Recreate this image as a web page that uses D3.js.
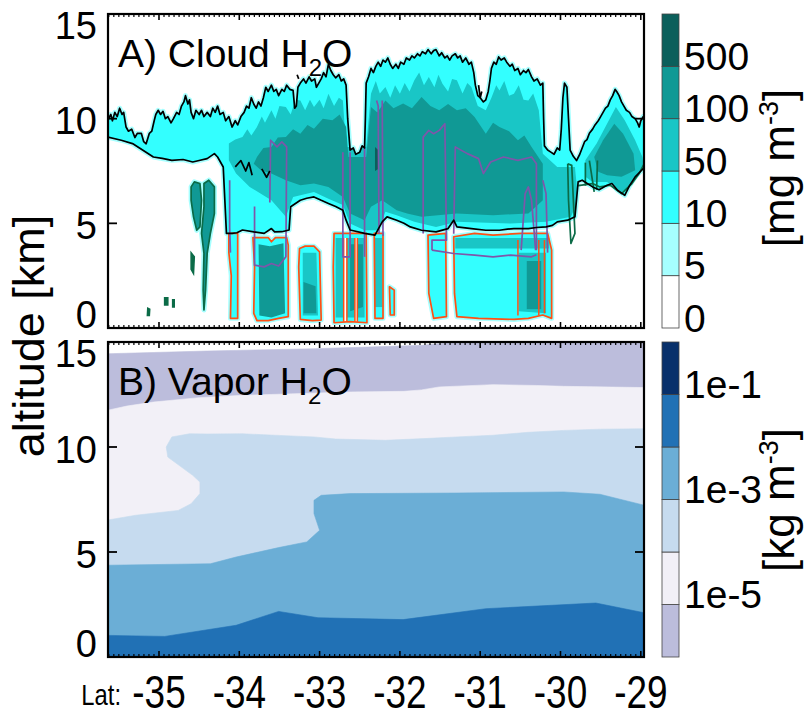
<!DOCTYPE html>
<html><head><meta charset="utf-8">
<script src="https://cdn.jsdelivr.net/npm/d3@7"></script>
<style>body{margin:0;background:#fff}text{font-family:'Liberation Sans',Arial,sans-serif;fill:#000}</style>
</head><body><svg id="c" width="804" height="718"></svg>
<script>
// ---------------- DATA ----------------
const latTicks = [-35,-34,-33,-32,-31,-30,-29];
const altTicks = [0,5,10,15];
const cloudLevels = [5,10,50,100,500];
const cloudColors = ['#ffffff','#a6ffff','#33ffff','#19c6c6','#109995','#0b5f5b'];
const cloudTickLabels = ['0','5','10','50','100','500'];
const vaporLevels = [1e-5,1e-4,1e-3,1e-2,1e-1];
const vaporColors = ['#bcbddc','#f2f0f7','#c6dbef','#6baed6','#2171b5','#08306b'];
const vaporTickLabels = [[1,'1e-5'],[3,'1e-3'],[5,'1e-1']];

// Panel A: cloud layer top (black contour), left -> right  [lat, alt km]
const cloudTop = [[-35.64,9.92],[-35.60,10.2],[-35.58,9.9],[-35.55,10.3],[-35.52,10.1],[-35.49,10.5],[-35.46,10.2],[-35.44,10.3],[-35.41,9.6],[-35.38,9.4],[-35.34,9.5],[-35.30,9.1],[-35.27,9.3],[-35.22,9.3],[-35.19,8.9],[-35.16,8.8],[-35.12,9.3],[-35.09,9.4],[-35.06,9.9],[-35.04,10.2],[-35.01,10.4],[-34.98,10.2],[-34.95,10.35],[-34.92,10.0],[-34.89,10.1],[-34.85,9.8],[-34.82,10.0],[-34.78,10.3],[-34.75,10.2],[-34.72,10.6],[-34.69,10.8],[-34.67,11.1],[-34.64,10.7],[-34.62,10.9],[-34.60,10.3],[-34.57,10.0],[-34.54,10.4],[-34.50,10.2],[-34.47,10.4],[-34.44,10.1],[-34.40,10.3],[-34.36,10.1],[-34.33,10.5],[-34.30,10.3],[-34.27,10.6],[-34.24,10.2],[-34.20,10.3],[-34.17,9.9],[-34.13,10.1],[-34.09,9.6],[-34.05,9.9],[-34.02,9.7],[-33.98,10.1],[-33.94,10.3],[-33.91,10.6],[-33.88,10.5],[-33.85,11.0],[-33.82,10.7],[-33.79,10.5],[-33.76,10.8],[-33.73,10.6],[-33.70,11.0],[-33.67,11.5],[-33.64,11.3],[-33.60,11.6],[-33.57,11.3],[-33.54,11.4],[-33.51,11.1],[-33.47,11.4],[-33.44,11.3],[-33.41,11.6],[-33.37,11.4],[-33.33,11.35],[-33.31,10.5],[-33.29,10.6],[-33.27,11.5],[-33.24,11.7],[-33.20,11.9],[-33.17,11.7],[-33.13,12.0],[-33.10,11.8],[-33.06,11.9],[-33.04,11.5],[-33.01,11.7],[-32.98,11.9],[-32.95,12.2],[-32.92,12.0],[-32.89,12.6],[-32.86,12.3],[-32.83,12.1],[-32.80,11.95],[-32.76,12.1],[-32.73,11.8],[-32.70,11.9],[-32.67,11.6],[-32.65,10.0],[-32.62,8.5],[-32.58,8.6],[-32.55,8.3],[-32.50,8.4],[-32.47,8.7],[-32.44,8.6],[-32.43,10.0],[-32.42,11.7],[-32.39,12.0],[-32.36,12.4],[-32.33,12.2],[-32.30,12.5],[-32.27,12.7],[-32.24,12.5],[-32.21,12.8],[-32.18,12.7],[-32.15,12.9],[-32.12,12.6],[-32.09,12.4],[-32.05,12.6],[-32.02,12.4],[-31.99,12.7],[-31.95,12.6],[-31.92,12.9],[-31.88,12.8],[-31.85,13.0],[-31.82,12.9],[-31.78,13.1],[-31.75,13.0],[-31.72,13.2],[-31.68,13.1],[-31.65,13.3],[-31.61,13.1],[-31.58,13.25],[-31.55,13.3],[-31.51,13.0],[-31.48,13.15],[-31.44,12.9],[-31.41,13.0],[-31.38,12.8],[-31.35,13.0],[-31.31,13.1],[-31.28,12.9],[-31.25,13.0],[-31.22,12.7],[-31.18,12.9],[-31.14,12.6],[-31.11,12.7],[-31.08,12.2],[-31.06,11.6],[-31.03,11.1],[-31.00,11.0],[-30.96,10.8],[-30.93,10.9],[-30.90,11.3],[-30.88,11.8],[-30.86,12.4],[-30.83,12.7],[-30.80,12.6],[-30.77,12.95],[-30.74,12.8],[-30.70,12.9],[-30.67,12.7],[-30.63,12.5],[-30.60,12.6],[-30.57,12.3],[-30.53,12.4],[-30.50,12.1],[-30.46,12.3],[-30.43,12.2],[-30.40,12.35],[-30.36,12.0],[-30.33,11.8],[-30.29,11.9],[-30.25,11.6],[-30.22,11.7],[-30.21,10.0],[-30.20,8.7],[-30.16,8.5],[-30.12,8.4],[-30.08,8.3],[-30.04,8.6],[-30.01,8.5],[-29.99,9.5],[-29.97,11.0],[-29.95,11.7],[-29.92,11.5],[-29.90,10.0],[-29.88,8.5],[-29.84,8.2],[-29.80,8.0],[-29.76,8.3],[-29.73,8.6],[-29.70,8.9],[-29.67,9.0],[-29.64,9.3],[-29.60,9.5],[-29.57,9.7],[-29.53,9.9],[-29.50,10.1],[-29.47,10.3],[-29.44,10.5],[-29.41,10.6],[-29.38,10.9],[-29.35,11.1],[-29.32,11.4],[-29.30,11.3],[-29.27,11.1],[-29.24,10.8],[-29.21,10.6],[-29.18,10.4],[-29.14,10.3],[-29.11,10.1],[-29.07,10.0],[-29.04,9.8],[-29.02,9.6],[-29.00,9.9],[-28.97,10.1],[-28.95,9.9]];
// cloud layer base (black contour), right -> left
const cloudBase = [[-28.95,7.69],[-29.07,7.22],[-29.14,6.8],[-29.20,6.34],[-29.29,6.58],[-29.36,6.9],[-29.42,6.82],[-29.52,6.6],[-29.60,6.74],[-29.73,7.06],[-29.78,6.98],[-29.82,5.31],[-29.91,5.15],[-30.04,5.07],[-30.10,4.9],[-30.18,4.83],[-30.30,4.8],[-30.40,4.75],[-30.58,4.75],[-30.66,4.72],[-30.76,4.67],[-30.93,4.67],[-31.11,4.75],[-31.29,4.83],[-31.33,5.15],[-31.40,4.75],[-31.55,4.59],[-31.73,4.67],[-31.87,4.83],[-31.95,5.0],[-32.04,5.15],[-32.16,5.31],[-32.22,5.07],[-32.31,4.44],[-32.44,4.52],[-32.62,4.68],[-32.67,5.15],[-32.71,5.63],[-32.80,5.8],[-32.89,5.95],[-32.98,6.1],[-33.07,6.26],[-33.16,6.2],[-33.24,6.10],[-33.36,5.79],[-33.38,4.68],[-33.47,4.6],[-33.56,4.59],[-33.60,4.75],[-33.69,4.52],[-33.82,4.59],[-33.96,4.68],[-34.03,4.55],[-34.09,4.52],[-34.16,4.52],[-34.18,6.10],[-34.20,7.69],[-34.27,8.17],[-34.31,8.33],[-34.40,8.09],[-34.50,8.0],[-34.58,7.93],[-34.70,8.05],[-34.84,8.01],[-34.96,8.1],[-35.07,8.17],[-35.20,8.49],[-35.33,8.81],[-35.47,8.97],[-35.64,9.12]];
const midBand = [[-34.13,8.81],[-34.05,9.0],[-33.96,9.12],[-33.9,9.5],[-33.85,9.2],[-33.78,9.6],[-33.72,10.1],[-33.68,9.8],[-33.60,10.4],[-33.55,10.0],[-33.5,10.6],[-33.42,10.56],[-33.36,10.2],[-33.3,10.9],[-33.24,10.87],[-33.18,10.4],[-33.12,10.9],[-33.07,10.56],[-33.0,10.9],[-32.95,10.5],[-32.89,11.19],[-32.82,10.6],[-32.76,11.0],[-32.71,10.87],[-32.67,8.65],[-32.42,8.65],[-32.36,11.19],[-32.3,11.8],[-32.25,11.2],[-32.18,11.51],[-32.12,11.0],[-32.06,11.6],[-32.0,11.19],[-31.94,11.7],[-31.88,11.3],[-31.82,11.83],[-31.76,12.2],[-31.7,11.6],[-31.64,11.99],[-31.57,11.5],[-31.52,12.1],[-31.47,11.67],[-31.4,11.3],[-31.35,11.9],[-31.29,11.83],[-31.22,11.2],[-31.16,11.7],[-31.11,11.51],[-31.03,10.6],[-30.93,10.40],[-30.86,11.0],[-30.8,11.6],[-30.76,11.35],[-30.7,11.8],[-30.64,11.1],[-30.58,11.19],[-30.52,11.6],[-30.46,10.9],[-30.40,10.87],[-30.34,11.2],[-30.27,10.40],[-30.22,8.33],[-30.04,7.69],[-29.82,7.69],[-29.78,6.10],[-29.87,5.31],[-30.18,5.07],[-30.62,4.99],[-31.29,5.07],[-31.55,4.83],[-31.82,5.07],[-32.04,5.39],[-32.18,5.55],[-32.27,4.67],[-32.44,4.67],[-32.62,4.99],[-32.71,5.87],[-32.89,6.18],[-33.07,6.50],[-33.33,6.26],[-33.42,5.31],[-33.60,6.10],[-33.87,6.74],[-34.04,7.38],[-34.13,8.01]];
const tealCore = [[-33.78,8.17],[-33.70,8.6],[-33.60,8.65],[-33.52,9.1],[-33.42,9.12],[-33.33,9.5],[-33.24,9.28],[-33.15,9.7],[-33.07,9.52],[-32.96,10.0],[-32.84,9.92],[-32.75,10.2],[-32.67,9.60],[-32.64,8.17],[-32.42,8.17],[-32.36,10.56],[-32.28,10.3],[-32.18,10.87],[-32.08,10.5],[-31.96,10.72],[-31.85,10.5],[-31.73,11.03],[-31.62,10.6],[-31.51,10.40],[-31.40,10.7],[-31.29,10.40],[-31.18,10.5],[-31.07,10.08],[-30.93,9.28],[-30.84,9.8],[-30.76,9.60],[-30.64,9.4],[-30.53,8.97],[-30.45,9.2],[-30.36,8.65],[-30.22,7.85],[-30.22,6.10],[-30.40,5.47],[-30.84,5.39],[-31.29,5.47],[-31.73,5.31],[-31.91,5.47],[-32.04,5.63],[-32.22,6.10],[-32.36,5.79],[-32.44,5.15],[-32.62,5.47],[-32.71,6.26],[-32.89,6.74],[-33.07,6.90],[-33.24,6.82],[-33.42,7.06],[-33.60,7.38],[-33.73,7.54],[-33.82,7.85]];
const rightMid = [[-29.69,8.01],[-29.55,8.81],[-29.42,9.76],[-29.31,10.56],[-29.20,9.92],[-29.07,8.97],[-28.98,8.17],[-28.95,7.38],[-29.07,6.90],[-29.24,6.50],[-29.42,6.98],[-29.60,6.98],[-29.69,7.22]];
const rightCore = [[-29.58,8.17],[-29.47,8.97],[-29.33,9.76],[-29.22,9.28],[-29.09,8.33],[-29.07,7.54],[-29.24,7.22],[-29.42,7.30],[-29.53,7.46]];
const darkSpot = [[-32.31,8.65],[-32.27,8.50],[-32.27,7.60],[-32.31,7.50]];
// precipitating columns below the layer
const columns = [
  [[-34.13,4.52],[-34.02,4.52],[-34.02,0.46],[-34.11,0.46],[-34.10,2.5],[-34.13,3.6]],
  [[-33.83,4.32],[-33.64,4.32],[-33.60,4.12],[-33.55,4.32],[-33.41,4.32],[-33.39,3.96],[-33.39,0.54],[-33.51,0.46],[-33.64,0.35],[-33.78,0.35],[-33.82,0.70],[-33.81,2.92]],
  [[-33.25,3.80],[-33.18,3.91],[-33.07,3.91],[-33.00,3.64],[-32.98,0.38],[-33.09,0.35],[-33.24,0.41],[-33.26,2.92]],
  [[-32.82,4.52],[-32.42,4.52],[-32.41,0.25],[-32.62,0.30],[-32.82,0.25],[-32.83,2.92]],
  [[-32.32,4.52],[-32.21,4.52],[-32.21,0.46],[-32.31,0.46]],
  [[-32.13,1.97],[-32.07,1.81],[-32.07,0.62],[-32.12,0.62]],
  [[-31.65,4.44],[-31.43,4.52],[-31.42,0.54],[-31.58,0.46],[-31.64,1.65]],
  [[-31.33,4.36],[-31.07,4.52],[-30.84,4.44],[-30.49,4.52],[-30.16,4.52],[-30.11,3.72],[-30.11,0.46],[-30.22,0.62],[-30.40,0.46],[-30.58,0.41],[-31.02,0.46],[-31.29,0.54],[-31.32,1.65]]
];
const columnCores = [
  [200,[[-33.76,4.0],[-33.62,3.9],[-33.45,4.05],[-33.43,0.7],[-33.60,0.5],[-33.75,0.6]]],
  [70,[[-33.21,3.6],[-33.04,3.6],[-33.02,0.6],[-33.21,0.6]]],
  [200,[[-33.20,2.2],[-33.05,2.0],[-33.04,0.7],[-33.20,0.7]]],
  [70,[[-32.80,4.3],[-32.44,4.3],[-32.44,0.5],[-32.80,0.5]]],
  [200,[[-32.62,4.0],[-32.46,4.0],[-32.46,1.0],[-32.62,0.8]]],
  [70,[[-32.31,4.3],[-32.22,4.3],[-32.22,1.0],[-32.31,1.0]]],
  [70,[[-31.31,4.3],[-30.14,4.3],[-30.14,3.8],[-31.31,3.8]]],
  [70,[[-30.52,3.6],[-30.18,3.6],[-30.18,0.7],[-30.52,0.8]]],
  [200,[[-30.42,3.2],[-30.24,3.2],[-30.24,0.9],[-30.42,0.9]]],
  [0,[[-32.70,4.3],[-32.66,4.3],[-32.66,0.3],[-32.70,0.3]]],
  [0,[[-32.56,4.3],[-32.53,4.3],[-32.53,0.3],[-32.56,0.3]]]
];
const orangeExtra = [
  [[-32.70,4.3],[-32.70,0.3]],[[-32.66,4.3],[-32.66,0.3]],[[-32.56,4.3],[-32.56,0.3]],[[-32.53,4.3],[-32.53,0.3]],
  [[-30.53,4.2],[-30.53,0.6]],[[-30.27,4.2],[-30.27,0.6]],[[-30.20,4.2],[-30.20,0.7]]
];
const purpleLines = [
  [[-34.12,7.06],[-34.12,4.8],[-34.11,3.6]],
  [[-33.81,5.8],[-33.81,3.0],[-33.69,2.92],[-33.60,3.08],[-33.51,2.96],[-33.42,3.40],[-33.41,8.65],[-33.47,8.89],[-33.53,8.65],[-33.61,8.97],[-33.62,6.0]],
  [[-32.71,8.4],[-32.71,3.4],[-32.62,3.4],[-32.62,8.4]],
  [[-32.44,8.6],[-32.44,3.4]],
  [[-32.29,10.87],[-32.27,10.6],[-32.26,4.5]],
  [[-32.22,10.87],[-32.21,4.4]],
  [[-31.71,4.52],[-31.71,9.12],[-31.64,9.44],[-31.58,9.28],[-31.51,9.44],[-31.44,9.76],[-31.42,4.2],[-31.60,4.2],[-31.60,3.72]],
  [[-31.33,4.5],[-31.31,8.65],[-31.16,8.33],[-31.02,8.09],[-30.96,7.38],[-30.87,7.93],[-30.71,8.17],[-30.53,8.01],[-30.36,8.17],[-30.30,7.85],[-30.30,3.72]],
  [[-31.60,3.72],[-31.33,3.56],[-31.07,3.48],[-30.84,3.40],[-30.62,3.48],[-30.36,3.40],[-30.30,3.5]],
  [[-30.49,3.72],[-30.44,6.42],[-30.40,6.74],[-30.36,6.10],[-30.31,3.72]],
  [[-30.22,7.06],[-30.18,6.42],[-30.16,3.6]]
];
const greenLoops = [
  [[-34.60,6.74],[-34.56,6.98],[-34.49,6.90],[-34.47,6.10],[-34.49,4.83],[-34.53,4.67],[-34.57,5.31],[-34.60,6.10]],
  [[-34.44,6.90],[-34.38,7.06],[-34.31,6.74],[-34.31,5.47],[-34.36,4.52],[-34.40,3.56],[-34.42,1.81],[-34.44,0.86],[-34.45,1.81],[-34.44,3.56],[-34.47,4.52],[-34.44,5.79]]
];
const greenBlobs = [
  [[-35.145,0.6],[-35.12,0.6],[-35.115,0.9],[-35.14,0.95]],
  [[-34.93,1.1],[-34.89,1.1],[-34.89,1.45],[-34.93,1.45]],
  [[-34.83,1.0],[-34.81,1.0],[-34.81,1.35],[-34.83,1.35]],
  [[-34.60,3.6],[-34.56,3.4],[-34.57,2.6],[-34.60,2.8]]
];
const greenLines = [
  [[-29.91,7.85],[-29.86,7.77],[-29.82,4.52],[-29.87,4.04],[-29.90,6.10],[-29.91,7.85]],
  [[-29.78,6.8],[-29.60,6.9],[-29.51,6.74],[-29.38,6.82],[-29.24,6.42],[-29.11,6.9],[-29.02,7.38],[-28.95,7.9]],
  [[-29.69,7.9],[-29.69,6.8]],[[-29.64,8.0],[-29.58,6.5]],[[-29.54,8.0],[-29.55,6.6]]
];
const blackBits = [
  [[-34.05,7.7],[-33.98,8.0],[-33.92,7.5],[-33.88,7.9],[-33.84,7.3]],
  [[-33.72,7.6],[-33.66,7.2],[-33.62,7.5]],
  [[-31.02,11.6],[-31.00,11.0],[-30.98,11.3]],
  [[-33.28,12.1],[-33.26,11.9]]
];

// Panel B: vapour contour boundaries [lat, alt km]
const vaporTop = [[-35.64,14.44],[-34.4,14.57],[-33.07,14.68],[-31.73,14.84],[-31.29,15.0],[-28.95,15.0]];
const vapor1e5 = [[-35.64,11.75],[-35.4,11.95],[-35.07,12.14],[-34.5,12.35],[-33.96,12.46],[-33.2,12.55],[-32.62,12.62],[-31.95,12.65],[-31.73,12.72],[-31.51,12.86],[-30.84,12.97],[-30.3,12.93],[-29.96,12.89],[-28.95,12.83]];
const vapor1e4 = [[-28.95,10.87],[-29.5,10.85],[-29.96,10.79],[-30.4,10.7],[-30.84,10.56],[-31.29,10.48],[-31.7,10.4],[-32.18,10.32],[-32.8,10.38],[-33.07,10.48],[-33.5,10.55],[-33.96,10.63],[-34.4,10.62],[-34.62,10.63],[-34.84,10.48],[-34.91,10.0],[-34.89,9.52],[-34.58,8.65],[-34.49,8.33],[-34.49,7.78],[-34.6,7.3],[-34.76,6.98],[-35.29,6.75],[-35.64,6.52]];
const vapor1e3 = [[-35.64,4.37],[-34.36,4.44],[-34.04,4.76],[-33.51,5.21],[-33.16,5.48],[-33.0,6.03],[-33.07,6.83],[-33.07,7.46],[-32.98,7.70],[-32.62,7.78],[-31.29,7.81],[-29.96,7.86],[-29.51,7.75],[-28.95,7.22]];
const vapor1e2 = [[-35.64,1.03],[-34.93,0.98],[-34.04,1.51],[-33.51,2.17],[-33.02,1.87],[-31.96,1.78],[-30.93,2.30],[-29.56,2.57],[-28.95,2.10]];

// ---------------- DRAW ----------------
const svg = d3.select('#c');
const X0=108, X1=644, AT=14, AB=328, BT=342, BB=657;
const xS = d3.scaleLinear().domain([-35.635,-28.96]).range([X0,X1]);
const yA = d3.scaleLinear().domain([0,15]).range([AB,AT]);
const yB = d3.scaleLinear().domain([0,15]).range([BB,BT]);
const colA = d3.scaleThreshold().domain(cloudLevels).range(cloudColors);
const colB = d3.scaleThreshold().domain(vaporLevels).range(vaporColors);
const lineA = d3.line().x(d=>xS(d[0])).y(d=>yA(d[1]));
const lineB = d3.line().x(d=>xS(d[0])).y(d=>yB(d[1]));
const closeDown = pts => pts.concat([[pts[pts.length-1][0],0],[pts[0][0],0]]);

const defs = svg.append('defs');
defs.append('clipPath').attr('id','clipA').append('rect').attr('x',X0).attr('y',AT).attr('width',X1-X0).attr('height',AB-AT);
defs.append('clipPath').attr('id','clipB').append('rect').attr('x',X0).attr('y',BT).attr('width',X1-X0).attr('height',BB-BT);
const upperLayer = cloudTop.concat(cloudBase);
defs.append('clipPath').attr('id','clipUpper').append('path').attr('d',lineA(upperLayer)+'Z');

// ---- Panel A
const gA = svg.append('g').attr('clip-path','url(#clipA)');
gA.append('rect').attr('x',X0).attr('y',AT).attr('width',X1-X0).attr('height',AB-AT).attr('fill','#fff');
const outer = [{p:upperLayer,v:20}].concat(columns.map(p=>({p,v:20}))).concat(greenLoops.map(p=>({p,v:200})));
gA.selectAll('path.halo').data(outer).join('path').attr('class','halo')
  .attr('d',d=>lineA(d.p)+'Z').attr('fill',colA(7)).attr('stroke',colA(7)).attr('stroke-width',5).attr('stroke-linejoin','round');
gA.selectAll('path.fillA').data(outer).join('path').attr('class','fillA')
  .attr('d',d=>lineA(d.p)+'Z').attr('fill',d=>colA(d.v));
const inner = [{p:midBand,v:70},{p:rightMid,v:70},{p:tealCore,v:200},{p:rightCore,v:200},{p:darkSpot,v:700}];
gA.append('g').attr('clip-path','url(#clipUpper)').selectAll('path').data(inner).join('path')
  .attr('d',d=>lineA(d.p)+'Z').attr('fill',d=>colA(d.v));
gA.append('g').selectAll('path').data(columnCores).join('path')
  .attr('d',d=>lineA(d[1])+'Z').attr('fill',d=>colA(d[0]));
gA.selectAll('path.gb').data(greenBlobs).join('path').attr('class','gb')
  .attr('d',d=>lineA(d)+'Z').attr('fill','#0b6b47').attr('stroke','#0b6b47').attr('stroke-width',1.5);
const strokeLines = (data, color, closed, w) => gA.append('g').selectAll('path').data(data).join('path')
  .attr('d',d=>lineA(d)+(closed?'Z':'')).attr('fill','none').attr('stroke',color).attr('stroke-width',w).attr('stroke-linejoin','round');
strokeLines(columns,'#ff5014',true,1.7);
strokeLines(orangeExtra,'#ff5014',false,1.5);
strokeLines(purpleLines,'#7e56aa',false,1.7);
strokeLines(greenLoops,'#0b6b47',true,1.7);
strokeLines(greenLines,'#0b6b47',false,1.7);
strokeLines([cloudTop,cloudBase].concat(blackBits),'#000',false,1.7);

// ---- Panel B
const gB = svg.append('g').attr('clip-path','url(#clipB)');
gB.append('rect').attr('x',X0).attr('y',BT).attr('width',X1-X0).attr('height',BB-BT).attr('fill','#fff');
const vaporBands = [[vaporTop,5e-6],[vapor1e5,5e-5],[vapor1e4,5e-4],[vapor1e3,5e-3],[vapor1e2,5e-2]];
gB.selectAll('path').data(vaporBands).join('path')
  .attr('d',d=>lineB(closeDown(d[0]))+'Z').attr('fill',d=>colB(d[1])).attr('stroke',d=>colB(d[1])).attr('stroke-width',0.6);

// ---- Frames, ticks, labels
const minor = d3.range(-35.625,-28.96,0.0625).filter(v=>Math.abs(v-Math.round(v))>0.01);
[[yA,AT,AB],[yB,BT,BB]].forEach(([ys,top,bot])=>{
  const g = svg.append('g').attr('stroke','#000').attr('fill','none');
  g.selectAll('line.mn').data(minor).join('line').attr('class','mn')
    .attr('x1',d=>xS(d)).attr('x2',d=>xS(d)).attr('y1',bot).attr('y2',bot-3).attr('stroke-width',1.2);
  g.selectAll('line.mt').data(minor).join('line').attr('class','mt')
    .attr('x1',d=>xS(d)).attr('x2',d=>xS(d)).attr('y1',top).attr('y2',top+3).attr('stroke-width',1.2);
  g.selectAll('line.Mb').data(latTicks).join('line').attr('class','Mb')
    .attr('x1',d=>xS(d)).attr('x2',d=>xS(d)).attr('y1',bot).attr('y2',bot-6).attr('stroke-width',1.6);
  g.selectAll('line.Mt').data(latTicks).join('line').attr('class','Mt')
    .attr('x1',d=>xS(d)).attr('x2',d=>xS(d)).attr('y1',top).attr('y2',top+6).attr('stroke-width',1.6);
  const inT = altTicks.filter(v=>v>0&&v<15);
  g.selectAll('line.yl').data(inT).join('line').attr('class','yl')
    .attr('x1',X0).attr('x2',X0+9).attr('y1',d=>ys(d)).attr('y2',d=>ys(d)).attr('stroke-width',1.8);
  g.selectAll('line.yr').data(inT).join('line').attr('class','yr')
    .attr('x1',X1).attr('x2',X1-9).attr('y1',d=>ys(d)).attr('y2',d=>ys(d)).attr('stroke-width',1.8);
  g.append('rect').attr('x',X0).attr('y',top).attr('width',X1-X0).attr('height',bot-top).attr('stroke-width',2.2);
  svg.append('g').selectAll('text').data(altTicks).join('text')
    .attr('x',97).attr('text-anchor','end').attr('font-size',38)
    .attr('y',d=>Math.max(top+11,Math.min(bot-14,ys(d)+2))+13.6).text(d=>d);
});

// titles
const title = (y, a) => {
  const t = svg.append('text').attr('x',118).attr('y',y).attr('font-size',39);
  t.append('tspan').text(a);
  t.append('tspan').attr('font-size',24).attr('dy',9).text('2');
  t.append('tspan').attr('dy',-9).text('O');
};
title(67,'A) Cloud H');
title(395,'B) Vapor H');

// x labels
svg.append('g').selectAll('text').data(latTicks).join('text')
  .attr('transform',d=>`translate(${xS(d)},708) scale(0.82,1.04)`).attr('text-anchor','middle').attr('font-size',45).text(d=>String(d));
svg.append('text').attr('transform','translate(121,705) scale(0.82,1)').attr('text-anchor','end').attr('font-size',29).text('Lat:');

// y axis title
svg.append('text').attr('transform','translate(44,336) rotate(-90)').attr('text-anchor','middle').attr('font-size',45).text('altitude [km]');

// colorbars
const CX=662, CW=17;
const cbA = d3.scaleLinear().domain([0,6]).range([AB,AT]);
const cbB = d3.scaleLinear().domain([0,6]).range([BB,BT]);
svg.append('g').selectAll('rect').data(cloudColors).join('rect')
  .attr('x',CX).attr('width',CW).attr('y',(d,i)=>cbA(i+1)).attr('height',(d,i)=>cbA(i)-cbA(i+1))
  .attr('fill',d=>d).attr('stroke','#444').attr('stroke-width',0.8);
svg.append('g').selectAll('text').data(cloudTickLabels).join('text')
  .attr('x',684).attr('y',(d,i)=>cbA(i)-10+13.5).attr('font-size',39).text(d=>d);
svg.append('g').selectAll('rect').data(vaporColors).join('rect')
  .attr('x',CX).attr('width',CW).attr('y',(d,i)=>cbB(i+1)).attr('height',(d,i)=>cbB(i)-cbB(i+1))
  .attr('fill',d=>d).attr('stroke','#444').attr('stroke-width',0.8);
svg.append('g').selectAll('text').data(vaporTickLabels).join('text')
  .attr('x',684).attr('y',d=>cbB(d[0])-10+13.5).attr('font-size',39).text(d=>d[1]);

const unit = (y, a) => {
  const t = svg.append('text').attr('transform',`translate(794,${y}) rotate(-90)`).attr('text-anchor','middle').attr('font-size',44);
  t.append('tspan').text(a);
  t.append('tspan').attr('font-size',27).attr('dy',-16).text('-3');
  t.append('tspan').attr('dy',16).text(']');
};
unit(168,'[mg m');
unit(500,'[kg m');
</script></body></html>
